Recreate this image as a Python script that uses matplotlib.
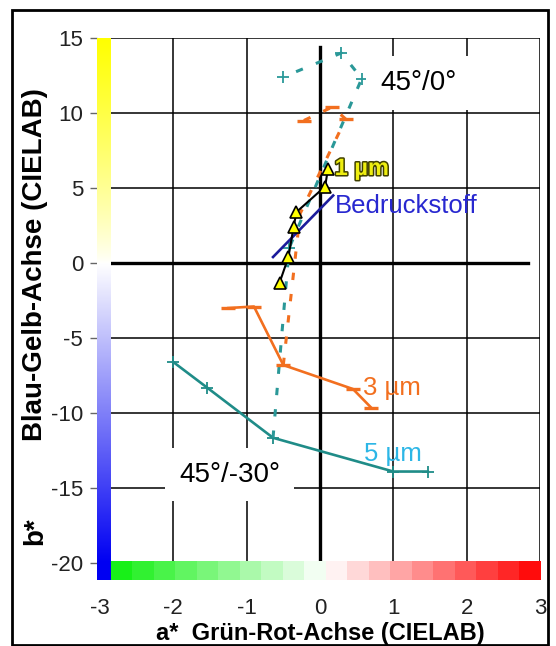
import matplotlib.pyplot as plt
import numpy as np
import matplotlib.patheffects as pe
from matplotlib.patches import Rectangle

# 5 µm, 45°/-30° (solid) and 45°/0° (dashed)
t5_a = [-2.0, -1.54, -0.64, 1.0, 1.47]
t5_b = [-6.6, -8.3, -11.65, -13.9, -13.9]
t5d_a = [-0.64, -0.42, 0.57, 0.29, -0.5]
t5d_b = [-11.65, 1.0, 12.3, 14.0, 12.4]

# 3 µm
o3_a = [-1.25, -0.9, -0.5, 0.45, 0.7]
o3_b = [-3.0, -2.9, -6.8, -8.4, -9.65]
o3d_a = [-0.5, -0.27, 0.35, 0.17, -0.22]
o3d_b = [-6.8, 3.3, 9.6, 10.4, 9.5]

# 1 µm
k1_a = [-0.55, -0.43, -0.36, -0.32, 0.07, 0.11]
k1_b = [-1.3, 0.4, 2.4, 3.4, 5.1, 6.3]

# Bedruckstoff (substrate)
sub_a = [-0.64, 0.18]
sub_b = [0.4, 4.5]

xticks = [-3, -2, -1, 0, 1, 2, 3]
yticks = [-20, -15, -10, -5, 0, 5, 10, 15]

plt.rcParams['font.family'] = ['Liberation Sans', 'DejaVu Sans']
plt.rcParams['axes.unicode_minus'] = False

fig = plt.figure(figsize=(5.56, 6.46), dpi=100)
ax = fig.add_axes([97 / 556, 1 - 580 / 646, 443 / 556, 542 / 646])

x0, x1 = -3.04, 3.0
y0, y1 = -21.13, 15.0
ax.set_xlim(x0, x1)
ax.set_ylim(y0, y1)

# grid
for gx in [-2, -1, 1, 2, 3]:
    ax.plot([gx, gx], [y0, y1], color='black', lw=1.1, zorder=1)
for gy in [-15, -10, -5, 5, 10, 15]:
    ax.plot([x0, x1], [gy, gy], color='black', lw=1.1, zorder=1)
# main axes through origin
ax.plot([-2.86, 2.84], [0, 0], color='black', lw=2.4, zorder=2)
ax.plot([0, 0], [y0, 14.4], color='black', lw=2.4, zorder=2)

# colour bars
bx = -2.85
vals = np.linspace(y1, y0, 300)
col = np.ones((300, 1, 3))
for i, v in enumerate(vals):
    if v >= 0:
        t = (v / 15) ** 0.8
        col[i, 0] = [1, 1, 1 - t]
    else:
        t = min(-v / 20, 1)
        col[i, 0] = [1 - t, 1 - t, 1 - 0.05 * t]
ax.imshow(col, extent=[x0, bx, y0, y1], aspect='auto', zorder=5, interpolation='bilinear')

nstep = 10
hcol = np.ones((1, 2 * nstep, 3))
for i in range(nstep):
    t = 1 - (i + 0.5) / nstep
    hcol[0, i] = [1 - 0.95 * t, 1 - 0.06 * t, 1 - 0.95 * t]
    t = (i + 0.5) / nstep
    hcol[0, nstep + i] = [1, 1 - t, 1 - t]
ax.imshow(hcol, extent=[bx, x1, y0, -19.93], aspect='auto', zorder=5, interpolation='nearest')

ax.set_xlim(x0, x1)
ax.set_ylim(y0, y1)

teal = '#1f8c88'
orange = '#f26f1f'

ax.plot(t5_a, t5_b, color=teal, lw=1.9, marker='+', ms=8, mew=1.3, zorder=3)
ax.plot(t5d_a, t5d_b, color='#2a9898', lw=2.2, ls=(0, (2.4, 4.6)), zorder=3)
ax.plot(t5d_a[1:], t5d_b[1:], ls='none', marker='+', ms=8, mew=1.3, color='#2a9898', zorder=3)

ax.plot(o3_a, o3_b, color=orange, lw=1.9, marker='_', ms=10, mew=2.4, zorder=3)
ax.plot(o3d_a, o3d_b, color=orange, lw=2.2, ls=(0, (2.4, 4.6)), zorder=3)
ax.plot(o3d_a[2:], o3d_b[2:], ls='none', marker='_', ms=10, mew=2.4, color=orange, zorder=3)

ax.plot(sub_a, sub_b, color='#1c1c9c', lw=1.9, zorder=3)
ax.plot(k1_a, k1_b, color='black', lw=1.5, marker='^', ms=9, mfc='#ffff00', mec='black',
        mew=1.2, zorder=4)

ax.text(0.2, 6.3, '1 µm', fontsize=17, fontweight='bold', color='#eeee10', va='center',
        path_effects=[pe.withStroke(linewidth=2.2, foreground='#404000')], zorder=6)
ax.text(0.21, 3.8, 'Bedruckstoff', fontsize=18.5, color='#2828d0', va='center', zorder=6)
ax.text(0.59, -8.3, '3 µm', fontsize=18.5, color=orange, va='center', zorder=6)
ax.text(0.6, -12.7, '5 µm', fontsize=18.5, color='#2cb6e6', va='center', zorder=6)

box = dict(boxstyle='square,pad=0.5', fc='white', ec='none')
ax.text(1.34, 12.0, '45°/0°', fontsize=20, ha='center', va='center', bbox=box, zorder=6)
ax.text(-1.23, -14.1, '45°/-30°', fontsize=20, ha='center', va='center', bbox=box, zorder=6)

for s in ax.spines.values():
    s.set_visible(False)
ax.set_xticks(xticks)
ax.set_yticks(yticks)
ax.tick_params(axis='x', length=0, pad=13, labelsize=16, labelcolor='#222222')
ax.tick_params(axis='y', length=5, width=1, color='#666666', pad=5, labelsize=16,
               labelcolor='#222222')

fig.text(0.576, 0.02, 'a*  Grün-Rot-Achse (CIELAB)', fontsize=17, fontweight='bold',
         ha='center', va='center')
fig.text(0.063, 0.59, 'Blau-Gelb-Achse (CIELAB)', fontsize=20, fontweight='bold',
         rotation=90, ha='center', va='center')
fig.text(0.063, 0.178, 'b*', fontsize=20, fontweight='bold', rotation=90,
         ha='center', va='center')

fig.patches.append(Rectangle((12 / 556, 1 / 646), 536 / 556, 635 / 646, transform=fig.transFigure,
                             fill=False, ec='black', lw=2))

fig.savefig('out.png', dpi=100)
